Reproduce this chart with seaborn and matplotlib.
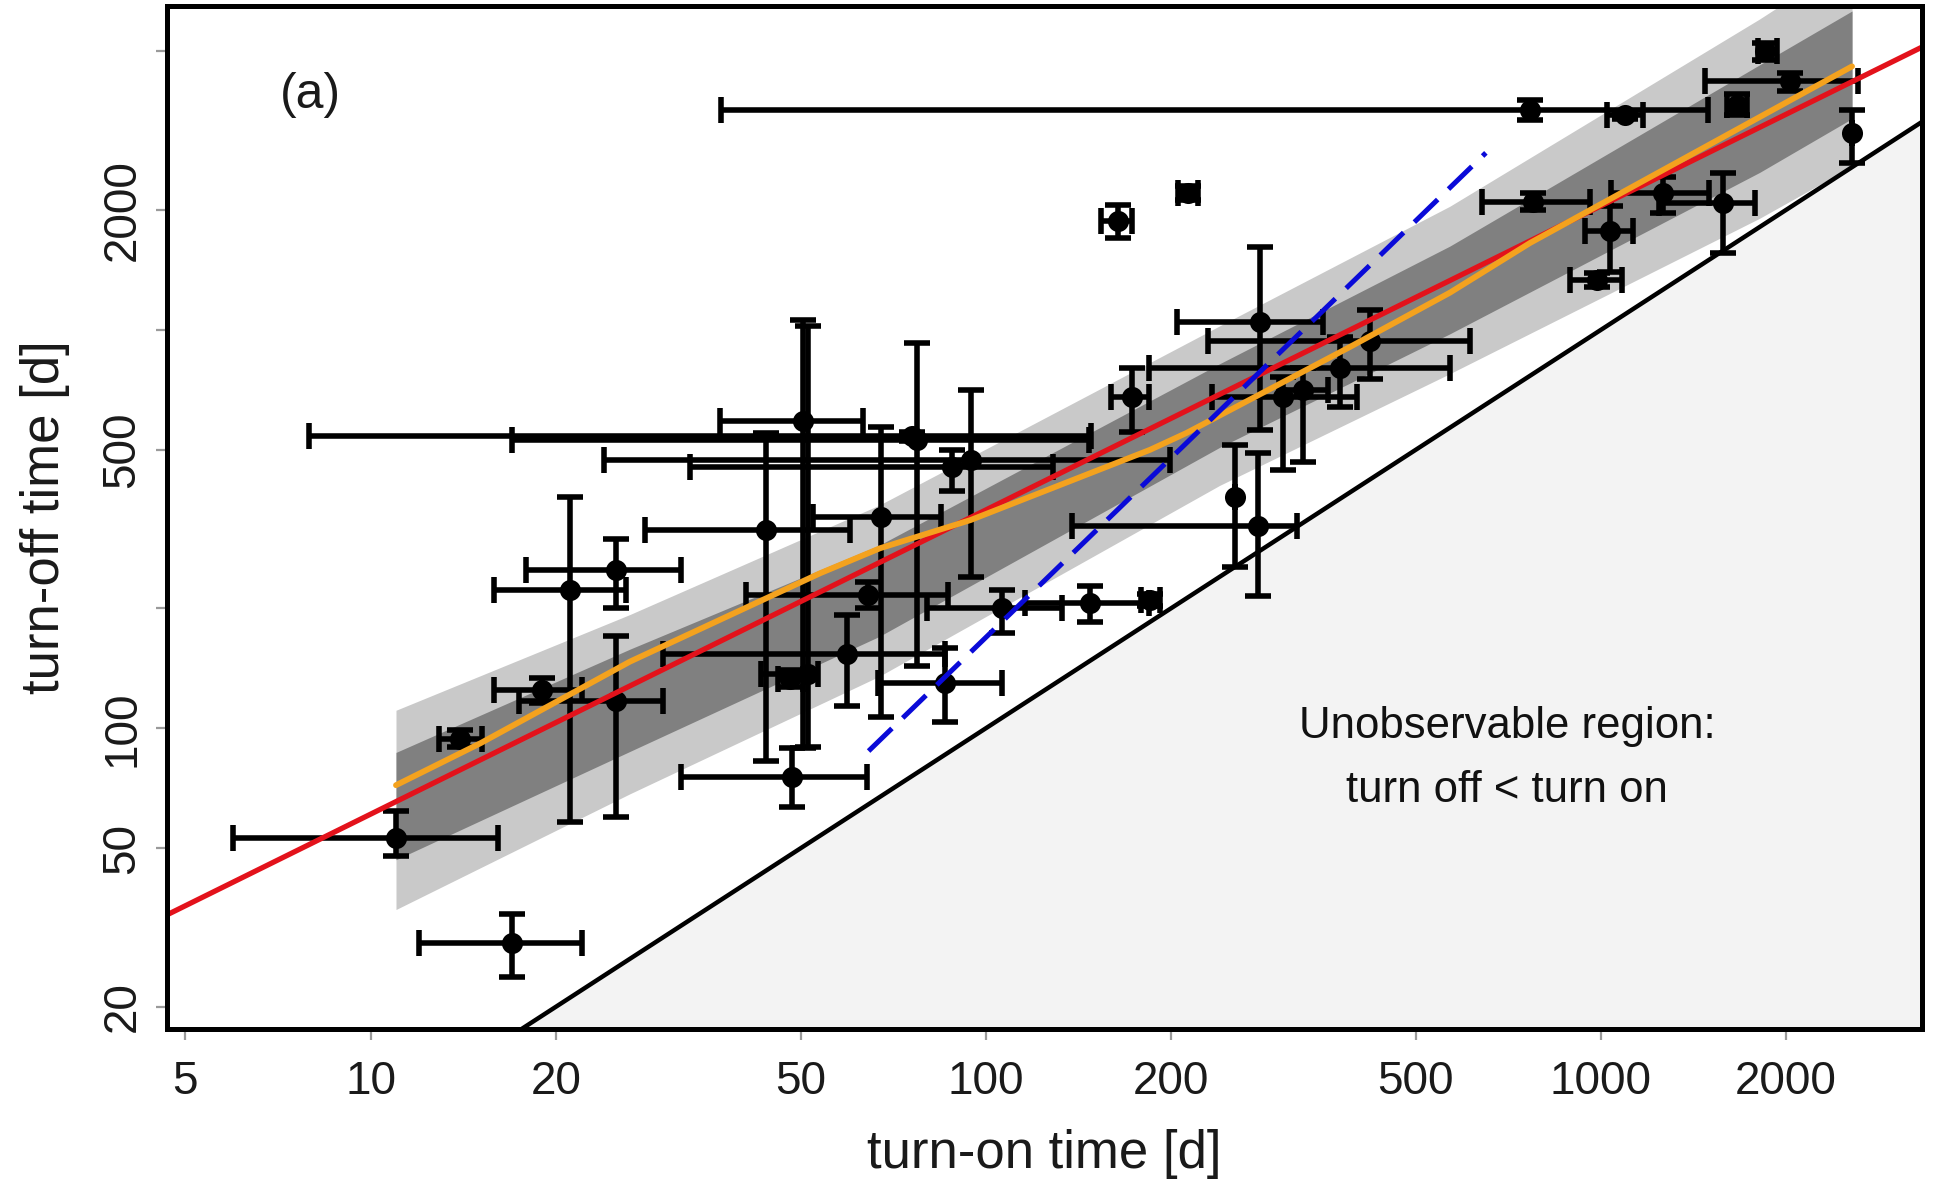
import matplotlib
matplotlib.use("Agg")
import matplotlib.pyplot as plt
import numpy as np
import pandas as pd
import seaborn as sns

# ---------------- data ----------------
on_time  = [11.0, 17.0, 14.0, 19.0, 21.1, 25.1, 25.1, 44.0, 50.5, 51.5, 48.0, 48.4, 59.4, 64.4,
            67.5, 77.2, 76.0, 88.1, 94.8, 85.9, 106.2, 147.7, 185, 164, 213, 172.7, 254, 279,
            277, 304.5, 328, 376, 421, 767, 1094, 1662, 1847, 2029, 2556, 776, 1262, 1581,
            1034, 984]
off_time = [53, 29.0, 94, 125, 222, 249, 117, 315, 590, 137, 133, 75.6, 154, 216,
            340, 529, 540, 453, 471, 130, 200, 206, 210, 1880, 2200, 680, 381, 1049,
            321, 680, 707, 801, 935, 3570, 3462, 3668, 5012, 4199, 3115, 2098, 2202, 2079,
            1765, 1334]
on_lo    = [5.98, 12.0, 12.9, 15.9, 15.9, 17.9, 17.4, 27.9, 37.0, 43.2, 46.0, 32.0, 29.9, 40.8,
            52.4, 17.0, 7.94, 33.0, 24.0, 66.9, 80.2, 115.8, 179, 154, 205, 160, 254, 204.3,
            138, 233, 300, 184, 230, 37.1, 1021, 1600, 1800, 1476, 2556, 640, 1040, 1243,
            942, 891]
on_hi    = [16.1, 22.1, 15.2, 22.1, 26.0, 32.0, 29.9, 60.1, 63.2, 53.4, 50.5, 64.0, 86.0, 86.9,
            84.7, 147, 148, 128.8, 199, 106.2, 132.9, 184, 192, 173, 221, 184, 254, 353.7,
            320, 401, 360, 568, 612, 1495, 1172, 1730, 1934, 2620, 2556, 960, 1500, 1780,
            1128, 1081]
off_lo   = [47.8, 23.8, 90, 116, 58.3, 200, 60, 83, 89, 90, 127, 63.6, 113.5, 200,
            107, 143, 525, 393, 240, 104, 173, 185, 203, 1700, 2120, 555, 254, 560,
            215, 445, 467, 642, 754, 3363, 3380, 3450, 4755, 3963, 2618, 2000, 1962, 1557,
            1400, 1280]
off_hi   = [62.0, 34.3, 99, 134, 381, 299, 170, 550, 1060, 1020, 140, 89.1, 193, 233,
            571, 926, 555, 500, 707, 159, 222, 227, 217, 2060, 2290, 801, 514, 1618,
            490, 760, 800, 960, 1122, 3776, 3550, 3900, 5250, 4416, 3565, 2200, 2424, 2472,
            2039, 1390]

# confidence bands (outer = light, inner = dark)
band_x        = [11.0, 26.4, 67.1, 240, 568, 1811, 2559]
band_outer_hi = [111, 193, 363, 1023, 2042, 6026, 8511]
band_inner_hi = [87, 158, 288, 822, 1622, 4624, 6310]
band_inner_lo = [46.8, 87.5, 170, 507, 977, 2483, 3388]
band_outer_lo = [35.1, 68.5, 135, 407, 776, 1905, 2570]

# smooth (orange) curve
smooth_x = [11.0, 15.1, 26.4, 53.8, 67.3, 94.4, 185, 212, 391, 568, 767, 2559]
smooth_y = [72, 91.8, 147, 245, 283, 333, 500, 551, 906, 1239, 1652, 4581]

# power-law fit (red)
fit_x = [4.5, 3500]
fit_y = [33.1, 5326]

# slope 1.5 reference (blue dashed)
ref_x = [64.5, 650]
ref_y = [87.7, 2780]

# y = x boundary
diag_x = [3, 5000]
diag_y = [3, 5000]

xticks = [5, 10, 20, 50, 100, 200, 500, 1000, 2000]
xtick_labels = ["5", "10", "20", "50", "100", "200", "500", "1000", "2000"]
yticks = [20, 50, 100, 200, 500, 1000, 2000, 5000]
ytick_labels = ["20", "50", "100", "", "500", "", "2000", ""]

# ---------------- styling ----------------
sns.set_theme(style="white")
plt.rcParams["font.family"] = ["Liberation Sans", "DejaVu Sans"]

W, H = 1937, 1180
fig = plt.figure(figsize=(W / 100, H / 100), dpi=100)
ax = fig.add_axes([166.8 / W, 1 - 1029 / H, 1755.2 / W, 1023 / H])
ax.set_xscale("log")
ax.set_yscale("log")
ax.set_xlim(4.665, 3325)
ax.set_ylim(17.6, 6494)

# unobservable region
ax.fill_between(diag_x, diag_y, [1e-3, 1e-3], color="#f3f3f3", lw=0, zorder=0)

# bands
ax.fill_between(band_x, band_outer_lo, band_outer_hi, color="#c9c9c9", lw=0, zorder=1)
ax.fill_between(band_x, band_inner_lo, band_inner_hi, color="#808080", lw=0, zorder=1.1)

# error bars
df = pd.DataFrame({"on": on_time, "off": off_time, "on_lo": on_lo, "on_hi": on_hi,
                   "off_lo": off_lo, "off_hi": off_hi})
xerr = np.vstack([df["on"] - df["on_lo"], df["on_hi"] - df["on"]])
yerr = np.vstack([df["off"] - df["off_lo"], df["off_hi"] - df["off"]])
ax.errorbar(df["on"], df["off"], xerr=xerr, yerr=yerr, fmt="none", ecolor="black",
            elinewidth=4.0, capsize=9.5, capthick=4.0, zorder=2)
sns.scatterplot(data=df, x="on", y="off", color="black", s=230, linewidth=0,
                ax=ax, zorder=2.5, legend=False)

# boundary line
sns.lineplot(x=diag_x, y=diag_y, color="black", lw=3.2, ax=ax, zorder=3, estimator=None)

# fits
sns.lineplot(x=fit_x, y=fit_y, color="#e3121b", lw=3.8, ax=ax, zorder=4, estimator=None)
sns.lineplot(x=smooth_x, y=smooth_y, color="#f4a21e", lw=4.2, ax=ax, zorder=4.2,
             estimator=None, sort=False)
sns.lineplot(x=ref_x, y=ref_y, color="#0a0ad8", lw=3.6, ax=ax, zorder=4.4,
             estimator=None, linestyle=(0, (6.5, 3)))

# ticks
ax.set_xticks(xticks)
ax.set_xticklabels(xtick_labels)
ax.set_yticks(yticks)
ax.set_yticklabels(ytick_labels)
ax.minorticks_off()
ax.tick_params(axis="both", which="major", direction="out", length=8, width=1.6,
               color="#9a9a9a", labelsize=33, labelcolor="#1a1a1a",
               bottom=True, left=True, top=False, right=False)
ax.tick_params(axis="x", pad=14)
ax.tick_params(axis="y", pad=8)
for lab in ax.get_yticklabels():
    lab.set_rotation(90)
    lab.set_va("center")
    lab.set_ha("right")

for sp in ax.spines.values():
    sp.set_visible(True)
    sp.set_color("black")
    sp.set_linewidth(3.6)
    sp.set_zorder(10)

ax.set_xlabel("turn-on time [d]", fontsize=38, color="#1a1a1a", labelpad=18)
ax.set_ylabel("turn-off time [d]", fontsize=38, color="#1a1a1a", labelpad=22)

ax.text(0.082, 0.913, "(a)", transform=ax.transAxes, fontsize=36, ha="center",
        va="center", color="#1a1a1a")
ax.text(0.7636, 0.2958, "Unobservable region:", transform=ax.transAxes, fontsize=31.5,
        ha="center", va="center", color="#111111", zorder=5)
ax.text(0.7636, 0.233, "turn off < turn on", transform=ax.transAxes, fontsize=31.5,
        ha="center", va="center", color="#111111", zorder=5)

fig.savefig("out.png", dpi=100)
